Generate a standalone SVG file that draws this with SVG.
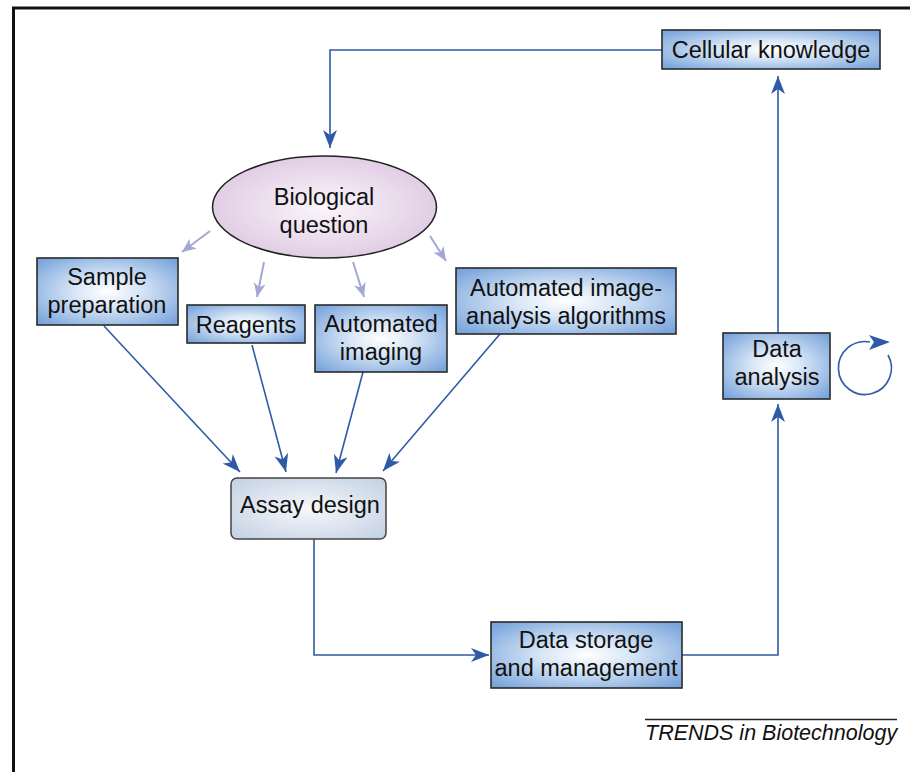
<svg xmlns="http://www.w3.org/2000/svg" width="910" height="772" viewBox="0 0 910 772">
<style>
.box{fill:url(#blueGrad);stroke:#2a2a2a;stroke-width:1.6}
.t{font-family:"Liberation Sans",Arial,sans-serif;font-size:23.5px;fill:#111;text-anchor:middle}
.dk{fill:none;stroke:#2f5aa6;stroke-width:1.6;marker-end:url(#ahDark)}
.lt{fill:none;stroke:#a3a7d4;stroke-width:2;marker-end:url(#ahLight)}
</style>
<defs>
<radialGradient id="blueGrad" cx="0.5" cy="0.5" r="0.65">
<stop offset="0" stop-color="#ffffff"/>
<stop offset="0.35" stop-color="#d9e7f7"/>
<stop offset="1" stop-color="#7ba6dc"/>
</radialGradient>
<radialGradient id="pinkGrad" cx="0.5" cy="0.5" r="0.6">
<stop offset="0" stop-color="#fbf6fb"/>
<stop offset="1" stop-color="#dcc5e0"/>
</radialGradient>
<radialGradient id="greyGrad" cx="0.5" cy="0.5" r="0.65">
<stop offset="0" stop-color="#f6f8fb"/>
<stop offset="1" stop-color="#c6d3e4"/>
</radialGradient>
<marker id="ahDark" markerUnits="userSpaceOnUse" markerWidth="20" markerHeight="16" refX="18" refY="7" orient="auto">
<path d="M0,0 L18,7 L0,14 L5,7 Z" fill="#2f5aa6"/>
</marker>
<marker id="ahLight" markerUnits="userSpaceOnUse" markerWidth="16" markerHeight="14" refX="14" refY="6" orient="auto">
<path d="M0,0 L14,6 L0,12 L4,6 Z" fill="#a3a7d4"/>
</marker>
</defs>
<rect width="910" height="772" fill="#ffffff"/>
<path d="M13.5,772 L13.5,8 L910,8" fill="none" stroke="#111" stroke-width="3"/>

<g id="connectors">
<path class="dk" d="M662,50 L330,50 L330,148"/>
<path class="lt" d="M210,231 L182,252"/>
<path class="lt" d="M264,262 L257,297"/>
<path class="lt" d="M353,262 L364,297"/>
<path class="lt" d="M430,236 L446,261"/>
<path class="dk" d="M104,326 L240,472"/>
<path class="dk" d="M252,345 L286,472"/>
<path class="dk" d="M363,372 L336,473"/>
<path class="dk" d="M500,334 L383,471"/>
<path class="dk" d="M314,539 L314,655 L489,655"/>
<path class="dk" d="M682,655 L778,655 L778,404"/>
<path class="dk" d="M778,333 L778,76"/>
<path fill="none" stroke="#2f5aa6" stroke-width="1.6" d="M888,355 A26.5,26.5 0 1 1 870,342"/>
<path d="M869,335 L890,342 L869,350 L874,342 Z" fill="#2f5aa6"/>
</g>

<g id="cellular-knowledge">
<rect class="box" x="662" y="30" width="218" height="39"/>
<text class="t" x="771" y="58">Cellular knowledge</text>
</g>
<g id="biological-question">
<ellipse cx="324.5" cy="207" rx="112" ry="51" fill="url(#pinkGrad)" stroke="#222" stroke-width="1.5"/>
<text class="t" x="324" y="205">Biological</text>
<text class="t" x="324" y="233">question</text>
</g>
<g id="sample-preparation">
<rect class="box" x="37" y="258" width="141" height="67"/>
<text class="t" x="107" y="285">Sample</text>
<text class="t" x="107" y="313">preparation</text>
</g>
<g id="reagents">
<rect class="box" x="187" y="305" width="118" height="38"/>
<text class="t" x="246" y="333">Reagents</text>
</g>
<g id="automated-imaging">
<rect class="box" x="315" y="305" width="132" height="67"/>
<text class="t" x="381" y="332">Automated</text>
<text class="t" x="381" y="360">imaging</text>
</g>
<g id="image-analysis">
<rect class="box" x="456" y="268" width="220" height="66"/>
<text class="t" x="566" y="296">Automated image-</text>
<text class="t" x="566" y="324">analysis algorithms</text>
</g>
<g id="data-analysis">
<rect class="box" x="723" y="333" width="107" height="66"/>
<text class="t" x="777" y="357">Data</text>
<text class="t" x="777" y="385">analysis</text>
</g>
<g id="assay-design">
<rect x="231" y="478" width="155" height="61" rx="6" fill="url(#greyGrad)" stroke="#444" stroke-width="1.5"/>
<text class="t" x="310" y="513" font-size="24.5">Assay design</text>
</g>
<g id="data-storage">
<rect class="box" x="491" y="622" width="191" height="66"/>
<text class="t" x="586" y="648">Data storage</text>
<text class="t" x="586" y="676">and management</text>
</g>
<g id="caption">
<line x1="645" y1="719.5" x2="897" y2="719.5" stroke="#222" stroke-width="1.5"/>
<text x="645" y="740" font-family="'Liberation Sans',Arial,sans-serif" font-size="21.5" font-style="italic" fill="#111">TRENDS in Biotechnology</text>
</g>
</svg>
